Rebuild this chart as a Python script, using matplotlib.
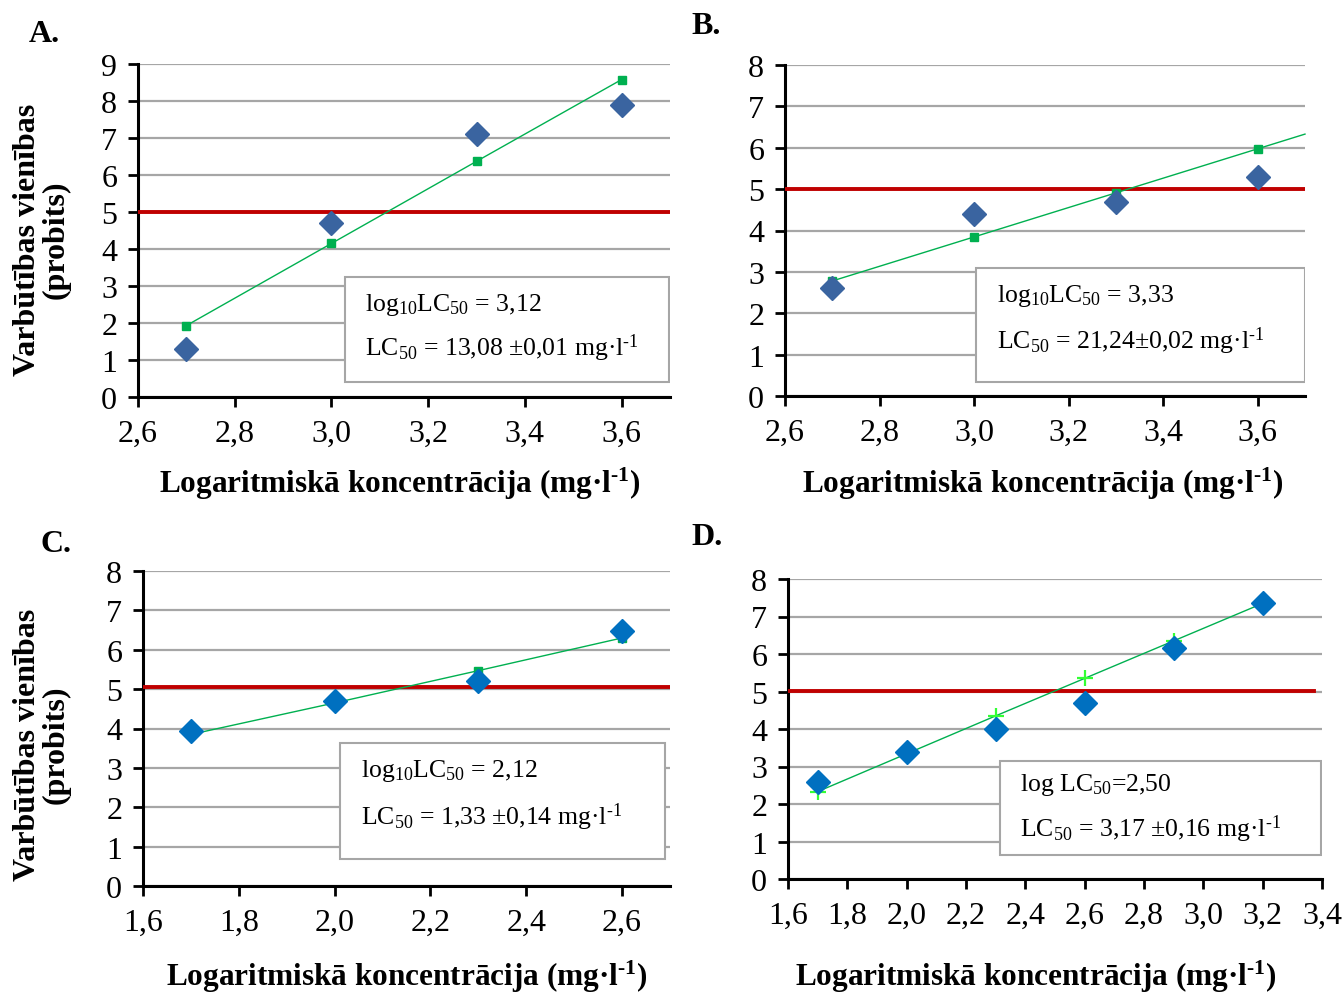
import matplotlib.pyplot as plt
from matplotlib.patches import Rectangle

plt.rcParams['font.family'] = ['Liberation Serif', 'DejaVu Serif']
plt.rcParams['mathtext.fontset'] = 'custom'
plt.rcParams['mathtext.rm'] = 'Liberation Serif'
plt.rcParams['mathtext.it'] = 'Liberation Serif:italic'
plt.rcParams['mathtext.bf'] = 'Liberation Serif:bold'

# --- data ---
xA = [2.7, 3.0, 3.3, 3.6]
obsA = [1.3, 4.7, 7.1, 7.9]
fitA = [1.93, 4.15, 6.37, 8.58]

xB = [2.7, 3.0, 3.3, 3.6]
obsB = [2.6, 4.4, 4.7, 5.3]
fitB = [2.78, 3.85, 4.9, 5.98]
trendB_x = [2.7, 3.7]
trendB_y = [2.78, 6.33]

xC = [1.7, 2.0, 2.3, 2.6]
obsC = [3.93, 4.7, 5.2, 6.48]
fitC = [3.85, 4.65, 5.47, 6.3]

xD = [1.7, 2.0, 2.3, 2.6, 2.9, 3.2]
obsD = [2.6, 3.4, 4.0, 4.7, 6.15, 7.35]
fitD = [2.33, 3.34, 4.35, 5.35, 6.35, 7.35]

ticksA = [2.6, 2.8, 3.0, 3.2, 3.4, 3.6]
ticksC = [1.6, 1.8, 2.0, 2.2, 2.4, 2.6]
ticksD = [1.6, 1.8, 2.0, 2.2, 2.4, 2.6, 2.8, 3.0, 3.2, 3.4]

sup = r'$^{\text{-}1}$'
labels = [
    (r'log$_{10}$LC$_{50}$ = 3,12', r'LC$_{50}$ = 13,08 ±0,01 mg·l' + sup),
    (r'log$_{10}$LC$_{50}$ = 3,33', r'LC$_{50}$ = 21,24±0,02 mg·l' + sup),
    (r'log$_{10}$LC$_{50}$ = 2,12', r'LC$_{50}$ = 1,33 ±0,14 mg·l' + sup),
    (r'log LC$_{50}$=2,50', r'LC$_{50}$ = 3,17 ±0,16 mg·l' + sup),
]

xlabel = r'Logaritmiskā koncentrācija (mg·l$^{\mathbf{\text{-}1}}$)'
ylabel = 'Varbūtības vienības\n(probits)'

W, H = 1343, 995
fig = plt.figure(figsize=(W / 100, H / 100), dpi=100)

def px_axes(l, r, t, b):
    return fig.add_axes([l / W, 1 - b / H, (r - l) / W, (b - t) / H])

def style(ax, xlim, ylim, xticks):
    ax.set_xlim(*xlim)
    ax.set_ylim(*ylim)
    ax.set_xticks(xticks)
    ax.set_xticklabels([f'{t:.1f}'.replace('.', ',') for t in xticks])
    ax.set_yticks(range(int(ylim[1]) + 1))
    ax.yaxis.grid(True, color='#a6a6a6', lw=1.6)
    ax.set_axisbelow(True)
    for s in ['top', 'right']:
        ax.spines[s].set_visible(False)
    for s in ['left', 'bottom']:
        ax.spines[s].set_linewidth(2.2)
    ax.tick_params(direction='out', length=7, width=2, labelsize=23, pad=8)
    ax.tick_params(axis='x', pad=9)

def box(ax, x0, y0, x1, y1, lines, ty1, ty2, tx):
    ax.add_patch(Rectangle((x0, y0), x1 - x0, y1 - y0, transform=ax.transAxes,
                           facecolor='white', edgecolor='#a6a6a6', lw=1.5, zorder=5))
    ax.text(tx, ty1, lines[0], transform=ax.transAxes, fontsize=18.5, va='center', zorder=6)
    ax.text(tx, ty2, lines[1], transform=ax.transAxes, fontsize=18.5, va='center', zorder=6)

red = '#c00000'
green = '#00b050'

# A
axA = px_axes(138, 670, 65, 398)
style(axA, (2.6, 3.7), (0, 9), ticksA)
axA.axhline(5, color=red, lw=2.8, zorder=3)
axA.plot(xA, fitA, '-s', color=green, lw=1, ms=6, zorder=4)
axA.plot(xA, obsA, 'D', color='#3a64a0', ms=12, zorder=4)
box(axA, 0.389, 0.045, 0.998, 0.36, labels[0], 0.28, 0.15, 0.427)

# B
axB = px_axes(785, 1305, 66, 397)
style(axB, (2.6, 3.7), (0, 8), ticksA)
axB.axhline(5, color=red, lw=2.8, zorder=3)
axB.plot(trendB_x, trendB_y, '-', color=green, lw=1, zorder=4, clip_on=False)
axB.plot(xB, fitB, 's', color=green, ms=6, zorder=4)
axB.plot(xB, obsB, 'D', color='#3a64a0', ms=12, zorder=4)
box(axB, 0.367, 0.042, 1.0, 0.387, labels[1], 0.305, 0.167, 0.407)

# C
axC = px_axes(143, 670, 572, 887)
style(axC, (1.6, 2.7), (0, 8), ticksC)
axC.axhline(5.05, color=red, lw=2.8, zorder=3)
axC.plot(xC, fitC, '-s', color=green, lw=1, ms=6, zorder=4)
axC.plot(xC, obsC, 'D', color='#0070c0', ms=12, zorder=4)
box(axC, 0.374, 0.086, 0.99, 0.454, labels[2], 0.368, 0.222, 0.414)

# D
axD = px_axes(788, 1322, 580, 880)
style(axD, (1.6, 3.4), (0, 8), ticksD)
axD.axhline(5.02, xmax=0.985, color=red, lw=2.8, zorder=3)
axD.plot(xD, fitD, '-', color=green, lw=1, zorder=4)
axD.plot(xD, fitD, '+', color='#33ff33', ms=11, mew=1.6, zorder=4)
axD.plot(xD, obsD, 'D', color='#0070c0', ms=12, zorder=5)
box(axD, 0.397, 0.08, 0.998, 0.393, labels[3], 0.317, 0.17, 0.434)

# axis labels and panel letters
for xc, yc in [(400, 484), (1043, 484), (407, 977), (1036, 977)]:
    fig.text(xc / W, 1 - yc / H, xlabel, fontsize=22.5, fontweight='bold',
             ha='center', va='center')
for yc in [240, 745]:
    fig.text(42 / W, 1 - yc / H, ylabel, fontsize=23, fontweight='bold',
             ha='center', va='center', rotation=90, linespacing=1.0)
for s, xc, yc in [('A.', 44, 35), ('B.', 706, 27), ('C.', 56, 545), ('D.', 707, 538)]:
    fig.text(xc / W, 1 - yc / H, s, fontsize=23, fontweight='bold',
             ha='center', va='center')

fig.savefig('out.png', dpi=100)
